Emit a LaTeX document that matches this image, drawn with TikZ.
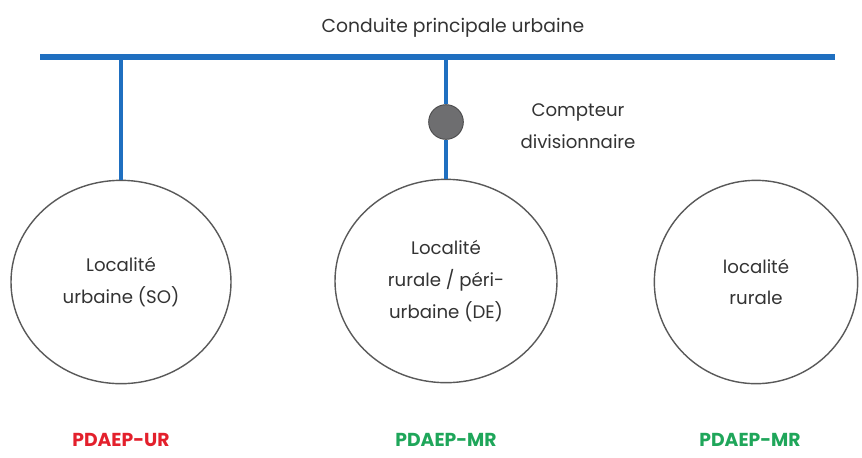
\documentclass[tikz,border=0pt]{standalone}
\usepackage{fontspec}
\setmainfont{Poppins}
\usetikzlibrary{shapes.geometric}
\definecolor{pipeblue}{HTML}{1F6FC0}
\definecolor{urred}{HTML}{E3202C}
\definecolor{mrgreen}{HTML}{1FA65A}
\definecolor{meter}{HTML}{6E6E70}
\tikzset{
  loc/.style={ellipse,draw=black!65,line width=1.2pt,align=center,inner sep=0pt,
    font=\fontsize{15.5}{27}\selectfont,text=black!80},
  pipe/.style={pipeblue,line width=2.8pt},
  plan/.style={font=\fontsize{16}{18}\selectfont\bfseries},
}
\begin{document}
\begin{tikzpicture}[x=0.3mm,y=-0.3mm]
              \useasboundingbox (0,0) rectangle (862,457);
              %\draw[help lines](0,0) grid (862,457);
              \draw (453,28) node[font=\fontsize{16}{18}\selectfont,text=black!80] (titre) {Conduite principale urbaine};
              \coordinate (w) at (40,57);
              \coordinate (e) at (835,57);
              \coordinate (b1) at (121,57);
              \coordinate (b2) at (446,57);
              \draw[pipeblue,line width=5pt] (w)--(e);

              \draw (121,282) node[loc,minimum width=66mm,minimum height=61mm] (so) {Localité\\urbaine (SO)};
              \draw (446,281) node[loc,minimum width=66.6mm,minimum height=61mm] (de) {Localité\\rurale / péri-\\urbaine (DE)};
              \draw (756,282) node[loc,minimum width=61mm,minimum height=61mm] (lr) {localité\\rurale};

              \draw (446,122) node[circle,fill=meter,draw=meter!70!black,line width=0.8pt,minimum size=10.4mm,inner sep=0pt] (cpt) {};
              \draw (578,126) node[align=center,font=\fontsize{15.5}{27}\selectfont,text=black!80] (lcpt) {Compteur\\divisionnaire};

              \draw[pipe] (b1)--(so.north);
              \draw[pipe] (b2)--(cpt.north);
              \draw[pipe] (cpt.south)--(de.north);

              \draw (121,440) node[plan,text=urred] (ur) {PDAEP-UR};
              \draw (446,440) node[plan,text=mrgreen] (mr1) {PDAEP-MR};
              \draw (750,440) node[plan,text=mrgreen] (mr2) {PDAEP-MR};
\end{tikzpicture}
\end{document}
